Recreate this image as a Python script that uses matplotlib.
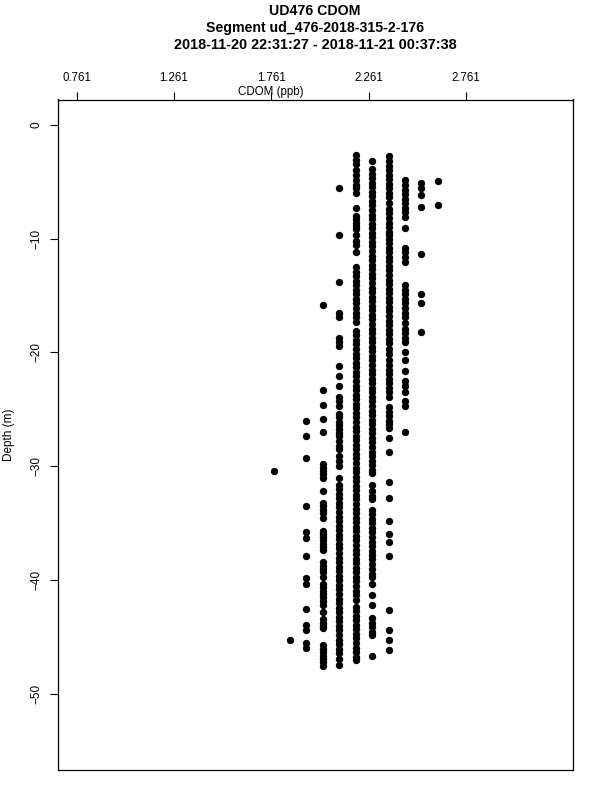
import matplotlib
matplotlib.use("Agg")
import matplotlib.pyplot as plt

plt.rcParams['font.family'] = ['Liberation Sans', 'DejaVu Sans']

# CDOM value of each column of points (ppb)
cdom_levels = [1.773, 1.856, 1.941, 2.025, 2.110, 2.196, 2.279, 2.363, 2.447, 2.531, 2.615]

# Depths (m) observed at each CDOM level
depth_1773 = [-30.4]
depth_1856 = [-45.25]
depth_1941 = [-26.0, -27.35, -29.25, -33.5, -35.8, -36.3, -37.9, -39.8, -40.3, -42.5,
              -43.9, -44.4, -45.5, -45.9]
depth_2025 = [-15.8, -23.3, -24.6, -25.8, -27.0, -29.8, -30.1, -30.4, -30.7, -31.0, -32.2,
              -33.2, -33.5, -33.8, -34.1, -34.5, -35.7, -35.9, -36.2, -36.5, -36.8, -37.1,
              -37.3, -38.35, -38.7, -39.0, -39.3, -39.7, -40.3, -40.6, -40.9, -41.2, -41.5,
              -41.8, -42.2, -42.8, -43.4, -43.7, -44.0, -44.2, -45.7, -46.0, -46.3, -46.6,
              -46.9, -47.2, -47.5]
depth_2110 = [-5.6, -9.7, -13.8, -16.5, -16.85, -18.7, -19.1, -19.4, -21.2, -22.1, -22.9,
              -23.9, -24.3, -24.7, -25.4, -25.7, -26.1, -26.4, -26.7, -27.05, -27.3, -27.75,
              -28.2, -28.5, -29.1, -29.5, -29.95, -31.0, -31.6, -32.0, -32.4, -32.8, -33.2,
              -33.6, -34.0, -34.4, -34.8, -35.2, -35.6, -36.0, -36.4, -36.8, -37.2, -37.6,
              -38.0, -38.4, -38.8, -39.2, -39.6, -40.0, -40.4, -40.8, -41.2, -41.6, -42.0,
              -42.4, -42.8, -43.2, -43.6, -44.0, -44.4, -44.8, -45.2, -45.6, -46.0, -46.4,
              -46.9, -47.4]
depth_2196 = [-2.7, -3.1, -3.5, -4.0, -4.4, -4.9, -5.3, -5.6, -6.0, -7.3, -8.0, -8.3, -8.6,
              -8.9, -9.2, -9.7, -10.2, -10.6, -11.2, -12.5, -12.9, -13.3, -13.7, -14.1,
              -14.5, -14.9, -15.3, -15.7, -16.1, -16.5, -16.9, -17.3, -18.1, -18.5, -18.9,
              -19.3, -19.7, -20.1, -20.5, -20.9, -21.3, -21.7, -22.1, -22.5, -22.9, -23.3,
              -23.7, -24.1, -24.5, -24.9, -25.3, -25.7, -26.1, -26.5, -26.9, -27.3, -27.7,
              -28.1, -28.5, -28.9, -29.3, -29.7, -30.1, -30.5, -30.9, -31.3, -31.7, -32.1,
              -32.5, -32.9, -33.3, -33.7, -34.1, -34.5, -34.9, -35.3, -35.7, -36.1, -36.5,
              -36.9, -37.3, -37.7, -38.1, -38.5, -38.9, -39.3, -39.7, -40.1, -40.5, -40.9,
              -41.3, -41.7, -42.3, -42.7, -43.1, -43.5, -43.9, -44.3, -44.7, -45.1, -45.5,
              -45.9, -46.3, -46.7, -47.0]
depth_2279 = [-3.2, -3.9, -4.3, -4.7, -5.1, -5.5, -5.9, -6.3, -6.7, -7.1, -7.5, -7.9, -8.3,
              -8.7, -9.1, -9.5, -9.9, -10.3, -10.7, -11.1, -11.5, -11.9, -12.3, -12.7, -13.1,
              -13.5, -13.9, -14.3, -14.7, -15.1, -15.5, -15.9, -16.3, -16.7, -17.1, -17.5,
              -17.9, -18.3, -18.7, -19.1, -19.5, -19.9, -20.3, -20.7, -21.1, -21.5, -21.9,
              -22.3, -22.7, -23.1, -23.5, -23.9, -24.3, -24.7, -25.1, -25.5, -25.9, -26.3,
              -26.7, -27.1, -27.5, -27.9, -28.3, -28.7, -29.1, -29.5, -29.9, -30.3, -30.6,
              -31.6, -32.2, -32.6, -32.9, -33.8, -34.2, -34.6, -35.0, -35.4, -35.8, -36.2,
              -36.6, -37.0, -37.4, -37.8, -38.1, -38.6, -39.0, -39.4, -39.7, -40.3, -41.3,
              -42.2, -43.3, -43.7, -44.1, -44.5, -44.8, -46.6]
depth_2363 = [-2.8, -3.2, -3.6, -4.0, -4.4, -4.8, -5.2, -5.6, -6.0, -6.4, -6.9, -7.4, -7.8,
              -8.2, -8.6, -9.0, -9.4, -9.7, -10.0, -10.4, -10.8, -11.2, -11.6, -12.0, -12.4,
              -12.8, -13.2, -13.6, -14.0, -14.4, -14.8, -15.2, -15.6, -16.0, -16.4, -16.8,
              -17.2, -17.6, -18.0, -18.4, -18.8, -19.2, -19.7, -20.1, -20.7, -21.1, -21.5,
              -21.9, -22.3, -22.7, -23.1, -23.5, -23.9, -24.8, -25.2, -25.6, -26.0, -26.3,
              -26.6, -27.5, -28.7, -31.4, -32.8, -34.8, -35.9, -36.6, -37.9, -42.6, -44.4,
              -45.2, -46.1]
depth_2447 = [-4.9, -5.3, -5.7, -6.1, -6.5, -6.9, -7.3, -7.7, -8.1, -9.1, -10.8, -11.2,
              -11.6, -12.1, -14.1, -14.5, -14.9, -15.3, -15.7, -16.1, -16.5, -16.9, -17.4,
              -17.9, -18.3, -18.7, -19.1, -20.0, -20.7, -21.6, -22.5, -22.9, -23.5, -24.3,
              -24.7, -27.0]
depth_2531 = [-5.15, -5.6, -6.2, -7.2, -11.4, -14.9, -15.65, -18.2]
depth_2615 = [-4.95, -7.1]

depth_columns = [depth_1773, depth_1856, depth_1941, depth_2025, depth_2110, depth_2196,
                 depth_2279, depth_2363, depth_2447, depth_2531, depth_2615]

x_ticks = [0.761, 1.261, 1.761, 2.261, 2.761]
x_tick_labels = ["0.761", "1.261", "1.761", "2.261", "2.761"]
y_ticks = [0, -10, -20, -30, -40, -50]
y_tick_labels = ["0", "\u221210", "\u221220", "\u221230", "\u221240", "\u221250"]

W, H = 600, 800
fig = plt.figure(figsize=(6, 8), dpi=100)
ax_l, ax_r, ax_t, ax_b = 57.5, 572.5, 99.5, 769.5
ax = fig.add_axes([ax_l / W, 1 - ax_b / H, (ax_r - ax_l) / W, (ax_b - ax_t) / H])

for x, depths in zip(cdom_levels, depth_columns):
    ax.plot([x] * len(depths), depths, linestyle='none', marker='o', ms=5.3,
            mew=0, color='black')

ax.set_xlim(0.663, 3.308)
ax.set_ylim(-56.6, 2.2)

ax.xaxis.tick_top()
ax.set_xticks(x_ticks)
ax.set_xticklabels(x_tick_labels)
ax.set_yticks(y_ticks)
ax.set_yticklabels(y_tick_labels)
ax.tick_params(axis='x', direction='out', length=6, width=0.8, pad=5.5, labelsize=8.3)
ax.tick_params(axis='y', direction='out', length=6, width=0.8, pad=5, labelsize=8.5,
               labelrotation=90)
for lab in ax.get_yticklabels():
    lab.set_va('center')
for s in ax.spines.values():
    s.set_linewidth(0.9)

cx = (ax_l + ax_r) / 2 / W
fig.text(cx, 1 - 11 / H, "UD476 CDOM", ha='center', va='center', fontsize=10.2,
         fontweight='bold')
fig.text(cx, 1 - 28 / H, "Segment ud_476-2018-315-2-176", ha='center', va='center',
         fontsize=10.2, fontweight='bold')
fig.text(cx, 1 - 45 / H, "2018-11-20 22:31:27 - 2018-11-21 00:37:38", ha='center',
         va='center', fontsize=10.4, fontweight='bold')
fig.text(271 / W, 1 - 91.5 / H, "CDOM (ppb)", ha='center', va='center', fontsize=8.3)
fig.text(9 / W, 1 - 435 / H, "Depth (m)", ha='center', va='center', fontsize=8.5,
         rotation=90)

fig.savefig("out.png", dpi=100)
